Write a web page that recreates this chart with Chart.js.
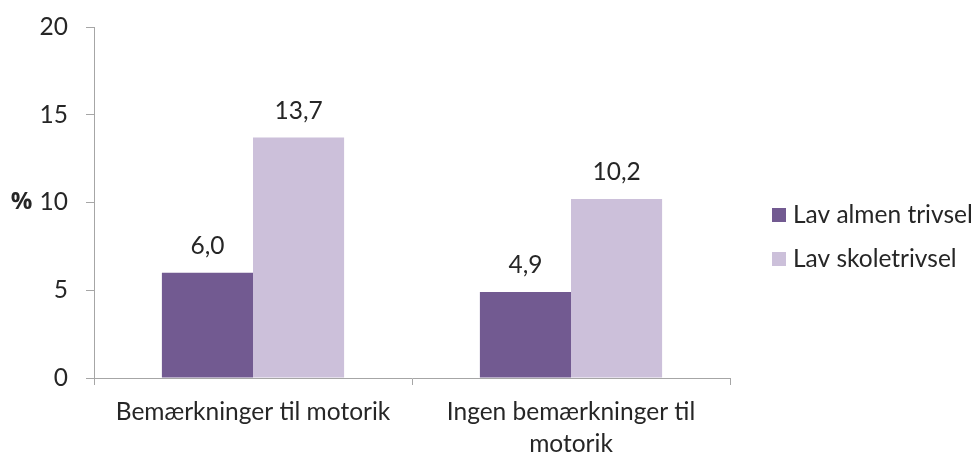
<!DOCTYPE html>
<html>
<head>
<meta charset="utf-8">
<script src="https://cdn.jsdelivr.net/npm/chart.js@4"></script>
<style>
  html, body { margin: 0; padding: 0; background: #fff; }
  #wrap { width: 978px; height: 453px; position: relative; }
</style>
</head>
<body>
<div id="wrap"><canvas id="chart"></canvas></div>
<script>
(function () {
  var categories = ["Bemærkninger til motorik", ["Ingen bemærkninger til", "motorik"]];
  var seriesNames = ["Lav almen trivsel", "Lav skoletrivsel"];
  var almenValues = [6.0, 4.9];
  var skoleValues = [13.7, 10.2];
  var yTicks = [0, 5, 10, 15, 20];

  var FONT = "Lato, 'Open Sans', sans-serif";
  var SIZE = 24.5;
  var TEXT = "#262626";
  var AXIS = "#a6a6a6";
  var colors = ["#725a91", "#ccc0da"];

  function fmt(v) {
    return v.toFixed(1).replace(".", ",");
  }

  var labelsPlugin = {
    id: "extras",
    afterDatasetsDraw: function (chart) {
      var ctx = chart.ctx;
      ctx.save();
      ctx.fillStyle = TEXT;
      ctx.font = SIZE + "px " + FONT;
      ctx.textAlign = "center";
      ctx.textBaseline = "alphabetic";
      chart.data.datasets.forEach(function (ds, i) {
        var meta = chart.getDatasetMeta(i);
        meta.data.forEach(function (bar, j) {
          ctx.fillText(fmt(ds.data[j]), bar.x, bar.y - 19);
        });
      });

      // "%" unit label beside the y axis
      var yScale = chart.scales.y;
      ctx.textBaseline = "middle";
      ctx.font = "bold 24px 'Open Sans', sans-serif";
      ctx.fillText("%", 21.5, yScale.getPixelForValue(10));

      // legend on the right
      ctx.font = SIZE + "px " + FONT;
      ctx.textAlign = "left";
      chart.data.datasets.forEach(function (ds, i) {
        var cy = 215 + i * 44;
        ctx.fillStyle = ds.backgroundColor;
        ctx.fillRect(772, cy - 7, 14, 14);
        ctx.fillStyle = TEXT;
        ctx.fillText(ds.label, 793, cy);
      });
      ctx.restore();
    }
  };

  new Chart(document.getElementById("chart"), {
    type: "bar",
    data: {
      labels: categories,
      datasets: [
        {
          label: seriesNames[0],
          data: almenValues,
          backgroundColor: colors[0],
          categoryPercentage: 0.573,
          barPercentage: 1.0
        },
        {
          label: seriesNames[1],
          data: skoleValues,
          backgroundColor: colors[1],
          categoryPercentage: 0.573,
          barPercentage: 1.0
        }
      ]
    },
    options: {
      responsive: true,
      maintainAspectRatio: false,
      animation: false,
      layout: { padding: { left: 0, right: 248, top: 27, bottom: 0 } },
      scales: {
        x: {
          grid: {
            offset: true,
            drawOnChartArea: false,
            drawTicks: true,
            tickLength: 7,
            color: AXIS
          },
          border: { color: AXIS, width: 1 },
          ticks: {
            color: TEXT,
            font: { family: FONT, size: SIZE, lineHeight: 1.27 },
            padding: 12,
            maxRotation: 0,
            autoSkip: false
          },
          afterFit: function (scale) { scale.height = 75; }
        },
        y: {
          min: 0,
          max: 20,
          afterBuildTicks: function (scale) {
            scale.ticks = yTicks.map(function (v) { return { value: v }; });
          },
          grid: {
            drawOnChartArea: false,
            drawTicks: true,
            tickLength: 8,
            color: AXIS
          },
          border: { color: AXIS, width: 1 },
          ticks: {
            color: TEXT,
            font: { family: FONT, size: SIZE, lineHeight: 1.0 },
            padding: 18
          },
          afterFit: function (scale) {
            scale.width = 94;
            scale.paddingTop = 0;
            scale.paddingBottom = 0;
          }
        }
      },
      plugins: {
        legend: { display: false },
        tooltip: { enabled: false }
      }
    },
    plugins: [labelsPlugin]
  });
})();
</script>
</body>
</html>
